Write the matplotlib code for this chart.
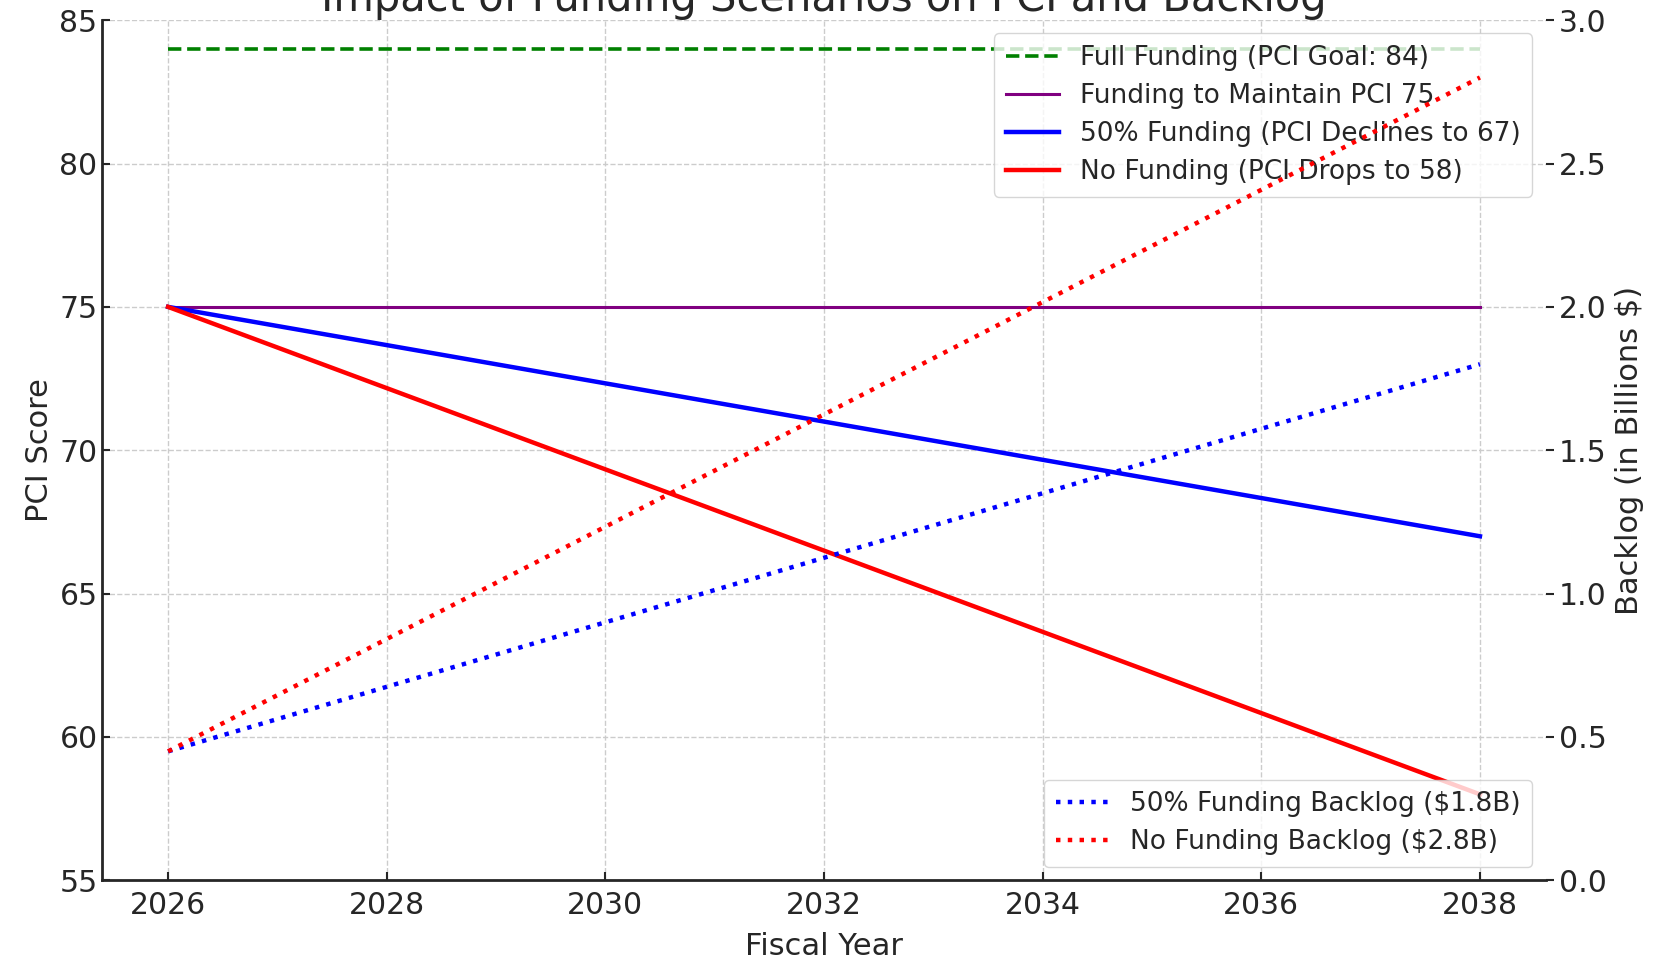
import matplotlib.pyplot as plt

# PCI scenarios (left axis)
years = [2026, 2038]
pci_full = [84, 84]
pci_maintain = [75, 75]
pci_half = [75, 67]
pci_none = [75, 58]

# backlog scenarios (right axis, billions $)
backlog_half = [0.45, 1.8]
backlog_none = [0.45, 2.8]

plt.rcParams['font.family'] = 'DejaVu Sans'
plt.rcParams['text.color'] = '#262626'
plt.rcParams['axes.labelcolor'] = '#262626'
plt.rcParams['xtick.color'] = '#262626'
plt.rcParams['ytick.color'] = '#262626'

fig, ax1 = plt.subplots(figsize=(16.53, 9.59), dpi=100)
fig.subplots_adjust(left=0.062, right=0.935, top=0.979, bottom=0.082)

ax1.plot(years, pci_full, '--', color='green', lw=2.6, label='Full Funding (PCI Goal: 84)')
ax1.plot(years, pci_maintain, '-', color='purple', lw=2.2, label='Funding to Maintain PCI 75')
ax1.plot(years, pci_half, '-', color='blue', lw=3.2, label='50% Funding (PCI Declines to 67)')
ax1.plot(years, pci_none, '-', color='red', lw=3.2, label='No Funding (PCI Drops to 58)')

ax1.set_ylim(55, 85)
ax1.set_xticks(range(2026, 2039, 2))
ax1.set_xlabel('Fiscal Year', fontsize=22, labelpad=8)
ax1.set_ylabel('PCI Score', fontsize=22, labelpad=4)
ax1.tick_params(labelsize=21.5, direction='in', length=6, width=1.5)
ax1.tick_params(axis='x', pad=8)
ax1.grid(True, linestyle='--', color='#cccccc', lw=1)
for s in ['top', 'right']:
    ax1.spines[s].set_visible(False)
for s in ['left', 'bottom']:
    ax1.spines[s].set_linewidth(2)
    ax1.spines[s].set_color('#262626')
ax1.legend(loc='upper right', fontsize=19, framealpha=0.8, borderpad=0.45,
           labelspacing=0.45)
ax1.set_title('Impact of Funding Scenarios on PCI and Backlog', fontsize=30, pad=-5)

ax2 = ax1.twinx()
ax2.plot(years, backlog_half, ':', color='blue', lw=3.2, label='50% Funding Backlog ($1.8B)')
ax2.plot(years, backlog_none, ':', color='red', lw=3.2, label='No Funding Backlog ($2.8B)')
ax2.set_ylim(0, 3.0)
ax2.set_ylabel('Backlog (in Billions $)', fontsize=22, labelpad=6)
ax2.tick_params(labelsize=21.5, direction='out', length=6, width=1.5)
for s in ['top', 'right', 'left', 'bottom']:
    ax2.spines[s].set_visible(False)
ax2.legend(loc='lower right', fontsize=19, framealpha=0.8, borderpad=0.45,
           labelspacing=0.45)

fig.savefig('out.png', dpi=100)
